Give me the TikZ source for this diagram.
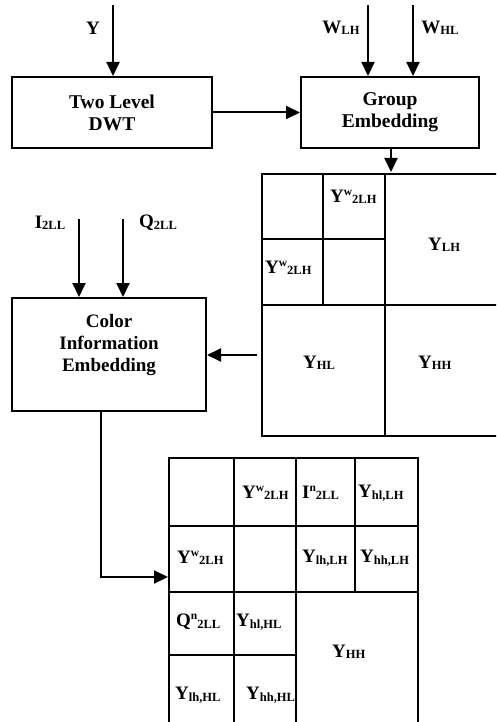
\documentclass[tikz,border=0pt]{standalone}
\usepackage{fontspec}
\setmainfont{Liberation Serif}
\usetikzlibrary{arrows.meta}
\newcommand{\lo}[1]{\raisebox{-1.5pt}{\fontsize{12.5}{12}\selectfont #1}}
\newcommand{\hi}[1]{\raisebox{7pt}{\fontsize{11.5}{11}\selectfont #1}}
\tikzset{
  blk/.style={draw, line width=2pt, align=center, inner sep=0pt,
    font=\bfseries\fontsize{19.5}{22}\selectfont},
  lbl/.style={inner sep=0pt, font=\bfseries\fontsize{19}{22}\selectfont},
  cell/.style={lbl, anchor=west},
  arr/.style={line width=2pt, -{Triangle[length=14pt,width=13pt]}},
  grid/.style={line width=1.8pt}
}
\begin{document}
\begin{tikzpicture}[x=1pt,y=-1pt]
  \clip (0,0) rectangle (496,722);
  \node[blk, minimum width=200pt, minimum height=71pt] (dwt) at (112,112.5) {Two Level\\DWT};
  \node[blk, minimum width=178pt, minimum height=71pt] (grp) at (390,112.5) {Group\\Embedding};
  \node[blk, minimum width=194pt, minimum height=113pt] (cie) at (109,354.5) {};
  \node[lbl, align=center] (cietxt) at ([yshift=9pt]cie.center) {Color\\Information\\Embedding};

  % inputs
  \node[lbl] (ylbl) at (93,28) {Y};
  \node[lbl] (wlh) at (341,28) {W\lo{LH}};
  \node[lbl] (whl) at (440,28) {W\lo{HL}};
  \node[lbl] (ill) at (50,223) {I\lo{2LL}};
  \node[lbl] (qll) at (158,223) {Q\lo{2LL}};
  \coordinate (yin) at (113,5);
  \coordinate (wlhin) at (368,5);
  \coordinate (whlin) at (413,5);
  \coordinate (illin) at (79,219);
  \coordinate (qllin) at (123,219);
  \coordinate (g1in) at (391,172);
  \coordinate (g1out) at (257,355);
  \coordinate (g2in) at (168,577);

  \draw[arr] (yin) -- (yin |- dwt.north);
  \draw[arr] (wlhin) -- (wlhin |- grp.north);
  \draw[arr] (whlin) -- (whlin |- grp.north);
  \draw[arr] (illin) -- (illin |- cie.north);
  \draw[arr] (qllin) -- (qllin |- cie.north);
  \draw[arr] (dwt.east) -- (grp.west);
  \draw[arr] (g1in |- grp.south) -- (g1in);
  \draw[arr] (g1out) -- (g1out -| cie.east);
  \draw[arr] ([xshift=-8pt]cie.south) |- (g2in);

  % first decomposition
  \begin{scope}[grid]
    \draw (262,174) rectangle (512,436);
    \draw (262,305) -- (512,305);
    \draw (385,174) -- (385,436);
    \draw (262,239) -- (385,239);
    \draw (323,174) -- (323,305);
  \end{scope}
  \node[cell] (a1) at (330,197) {Y\hi{w}\lo{2LH}};
  \node[cell] (a2) at (265,268) {Y\hi{w}\lo{2LH}};
  \node[cell] (a3) at (428,245) {Y\lo{LH}};
  \node[cell] (a4) at (303,363) {Y\lo{HL}};
  \node[cell] (a5) at (418,363) {Y\lo{HH}};

  % second decomposition
  \begin{scope}[grid]
    \draw (169,458) rectangle (418,730);
    \draw (169,526) -- (418,526);
    \draw (169,592) -- (418,592);
    \draw (169,655) -- (296,655);
    \draw (234,458) -- (234,730);
    \draw (296,458) -- (296,730);
    \draw (355,458) -- (355,592);
  \end{scope}
  \node[cell] (b1) at (242,493) {Y\hi{w}\lo{2LH}};
  \node[cell] (b2) at (302,493) {I\hi{n}\lo{2LL}};
  \node[cell] (b3) at (358,493) {Y\lo{hl,LH}};
  \node[cell] (b4) at (177,558) {Y\hi{w}\lo{2LH}};
  \node[cell] (b5) at (302,558) {Y\lo{lh,LH}};
  \node[cell] (b6) at (360,558) {Y\lo{hh,LH}};
  \node[cell] (b7) at (176,622) {Q\hi{n}\lo{2LL}};
  \node[cell] (b8) at (236,622) {Y\lo{hl,HL}};
  \node[cell] (b9) at (332,652) {Y\lo{HH}};
  \node[cell] (b10) at (175,695) {Y\lo{lh,HL}};
  \node[cell] (b11) at (246,695) {Y\lo{hh,HL}};
\end{tikzpicture}
\end{document}
